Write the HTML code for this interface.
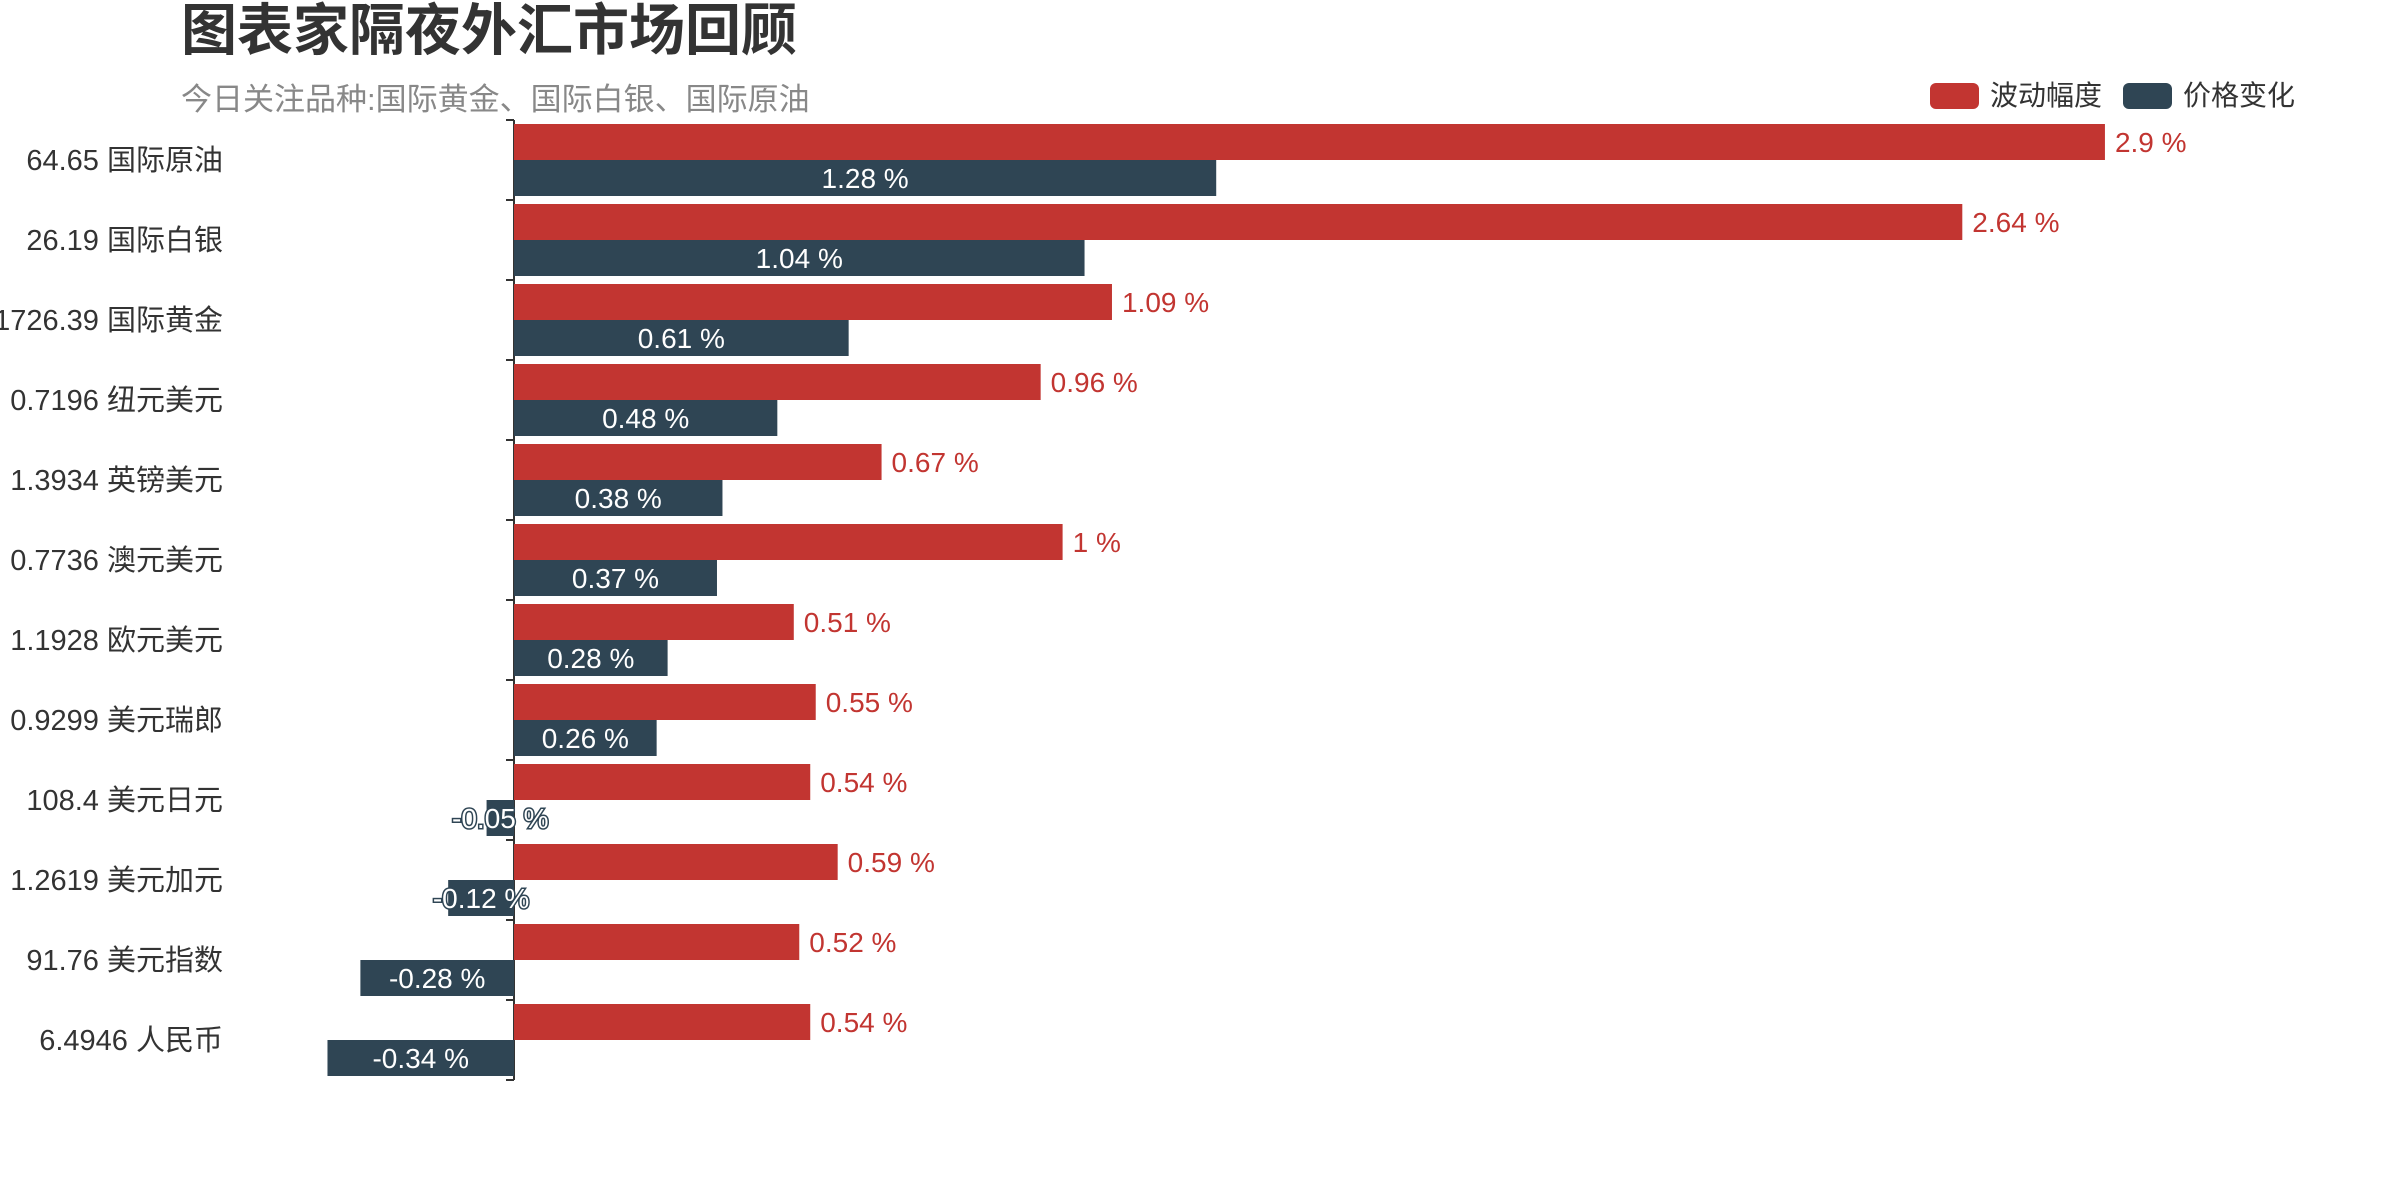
<!DOCTYPE html>
<html><head><meta charset="utf-8"><style>
html,body{margin:0;padding:0;background:#fff;}
svg{display:block;font-family:"Liberation Sans","Noto Sans CJK SC",sans-serif;}
</style></head><body>
<svg id="chart" width="2400" height="1200" viewBox="0 0 2400 1200">
<text x="181" y="50" font-size="56" font-weight="bold" fill="#333">图表家隔夜外汇市场回顾</text>
<text x="181" y="110" font-size="31" fill="#888">今日关注品种:国际黄金、国际白银、国际原油</text>
<g>
<g>
<rect x="1930" y="83" width="49" height="26" rx="6" fill="#c23531"/>
<text x="1990" y="105" font-size="28" fill="#333">波动幅度</text>
</g>
<g>
<rect x="2123" y="83" width="49" height="26" rx="6" fill="#2f4554"/>
<text x="2183" y="105" font-size="28" fill="#333">价格变化</text>
</g>
</g>
<g id="plot"></g>
</svg>
<script>
const categories = ["国际原油","国际白银","国际黄金","纽元美元","英镑美元","澳元美元","欧元美元","美元瑞郎","美元日元","美元加元","美元指数","人民币"];
const prices = ["64.65","26.19","1726.39","0.7196","1.3934","0.7736","1.1928","0.9299","108.4","1.2619","91.76","6.4946"];
const volatility = [2.9,2.64,1.09,0.96,0.67,1,0.51,0.55,0.54,0.59,0.52,0.54];
const priceChange = [1.28,1.04,0.61,0.48,0.38,0.37,0.28,0.26,-0.05,-0.12,-0.28,-0.34];

const NS="http://www.w3.org/2000/svg";
const plot=document.getElementById('plot');
const x0=514, unit=548.6, plotTop=120, band=80;
function xScale(v){return x0+v*unit;}
function yBand(i){return plotTop+i*band;}
function mk(tag,attrs){const e=document.createElementNS(NS,tag);for(const k in attrs)e.setAttribute(k,attrs[k]);plot.appendChild(e);return e;}

const axis=mk('line',{x1:x0,y1:plotTop,x2:x0,y2:plotTop+categories.length*band,stroke:'#333','stroke-width':2});


for(let i=0;i<=categories.length;i++){
  const t=mk('line',{x1:x0-8,y1:yBand(i),x2:x0,y2:yBand(i),stroke:'#333','stroke-width':2});
  
  
}
categories.forEach((c,i)=>{
  const yb=yBand(i);
  const lab=mk('text',{x:223,y:yb+50,'font-size':29,fill:'#333','text-anchor':'end'});
  lab.textContent=prices[i]+' '+c;
  
  

  const v=volatility[i];
  const r=mk('rect',{x:Math.min(xScale(0),xScale(v)),y:yb+4,width:Math.abs(xScale(v)-xScale(0)),height:36,fill:'#c23531'});
  
  
  const rl=mk('text',{x:xScale(v)+10,y:yb+32,'font-size':28,fill:'#c23531'});
  rl.textContent=v+' %';
  
  

  const p=priceChange[i];
  const bx=Math.min(xScale(0),xScale(p)), bw=Math.abs(xScale(p)-xScale(0));
  const b=mk('rect',{x:bx,y:yb+40,width:bw,height:36,fill:'#2f4554'});
  
  
  const bl=mk('text',{x:bx+bw/2,y:yb+68,'font-size':28,fill:'#fff','text-anchor':'middle'});
  if(bw<120){bl.setAttribute('stroke','#2f4554');bl.setAttribute('stroke-width','3');bl.setAttribute('paint-order','stroke');}
  bl.textContent=p+' %';
  
  
});
</script>
</body></html>
